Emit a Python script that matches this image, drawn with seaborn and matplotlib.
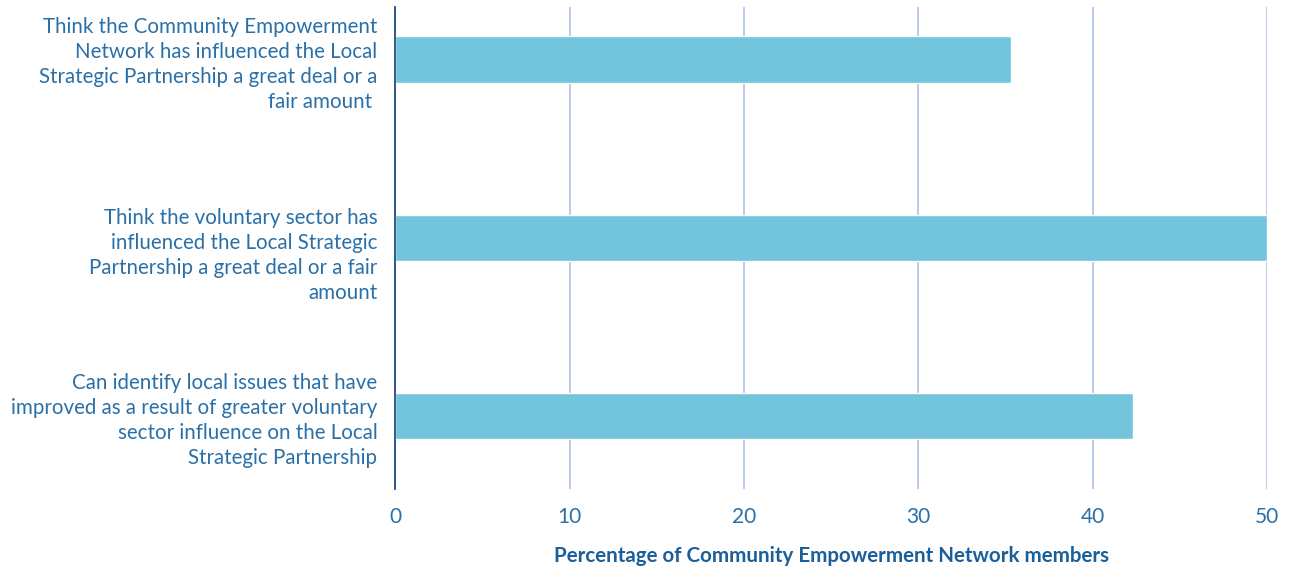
import matplotlib
matplotlib.use("Agg")
import matplotlib.pyplot as plt
import matplotlib.transforms as mtransforms
import seaborn as sns
import pandas as pd

categories = [
    "Think the Community Empowerment\nNetwork has influenced the Local\nStrategic Partnership a great deal or a\nfair amount ",
    "Think the voluntary sector has\ninfluenced the Local Strategic\nPartnership a great deal or a fair\namount",
    "Can identify local issues that have\nimproved as a result of greater voluntary\nsector influence on the Local\nStrategic Partnership",
]
values = [35.3, 50.0, 42.3]
xticks = [0, 10, 20, 30, 40, 50]
xlabel = "Percentage of Community Empowerment Network members"

df = pd.DataFrame({"category": categories, "value": values})

sns.set_theme(style="white")
plt.rcParams["font.family"] = ["Lato", "DejaVu Sans"]

fig = plt.figure(figsize=(12.95, 5.69), dpi=100)
ax = fig.add_axes([0.3054, 0.1406, 0.6728, 0.8466])

sns.barplot(data=df, x="value", y="category", orient="h", color="#72C5DD",
            saturation=1, width=0.26, ax=ax, zorder=3)

ax.set_xlim(0, 50)
ax.set_ylim(2.41, -0.294)
ax.set_xticks(xticks)
ax.set_xticklabels([str(t) for t in xticks])
ax.xaxis.grid(True, color="#B3C6EC", linewidth=1.3, zorder=0)
ax.yaxis.grid(False)
for s in ["top", "right", "bottom"]:
    ax.spines[s].set_visible(False)
ax.spines["left"].set_color("#1F4E79")
ax.spines["left"].set_linewidth(1.3)
ax.spines["left"].set_zorder(4)

text_color = "#2A70A8"
ax.tick_params(axis="x", length=0, pad=13, labelsize=15, labelcolor=text_color)
ax.tick_params(axis="y", length=0, pad=13, labelsize=14.8, labelcolor=text_color)
for lab in ax.get_yticklabels():
    lab.set_horizontalalignment("right")
    lab.set_multialignment("right")
    lab.set_linespacing(1.32)
# second label sits slightly lower in the original
ylabs = ax.get_yticklabels()
ylabs[1].set_transform(ylabs[1].get_transform() +
                       mtransforms.ScaledTranslation(0, -13 / 100, fig.dpi_scale_trans))

ax.set_ylabel("")
ax.set_xlabel(xlabel, fontsize=14.8, fontweight="bold", color="#1A5E9A", labelpad=14)

fig.savefig("out.png", dpi=100)
